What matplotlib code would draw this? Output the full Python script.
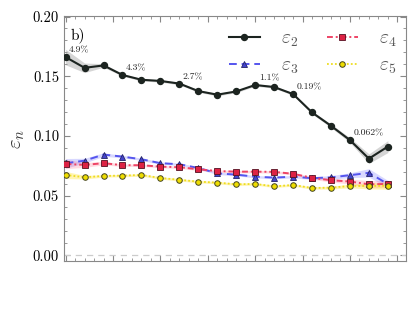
import numpy as np
import matplotlib
matplotlib.use("Agg")
import matplotlib.pyplot as plt
from matplotlib.ticker import MultipleLocator, NullFormatter

plt.rcParams["font.family"] = "serif"
plt.rcParams["font.serif"] = ["cmr10", "DejaVu Serif"]
plt.rcParams["mathtext.fontset"] = "cm"
plt.rcParams["axes.formatter.use_mathtext"] = True

# centrality bins (index)
xbin = np.arange(18)
eps2 = [0.166, 0.157, 0.159, 0.151, 0.147, 0.146, 0.1438, 0.1375, 0.1345, 0.1372,
        0.1426, 0.1409, 0.135, 0.1196, 0.1084, 0.0964, 0.0809, 0.0910]
eps2_err = [0.0065, 0.004, 0.0015, 0.001, 0.001, 0.001, 0.001, 0.001, 0.001, 0.001,
            0.001, 0.001, 0.001, 0.0012, 0.0015, 0.002, 0.004, 0.005]
eps3 = [0.0770, 0.0792, 0.0843, 0.0826, 0.0804, 0.0771, 0.0762, 0.0731, 0.0686, 0.0675,
        0.0658, 0.0650, 0.0658, 0.0645, 0.0652, 0.0670, 0.0690, 0.0596]
eps3_err = [0.004, 0.002, 0.0015, 0.001, 0.001, 0.001, 0.001, 0.001, 0.001, 0.001,
            0.001, 0.001, 0.001, 0.0012, 0.0015, 0.002, 0.0035, 0.003]
eps4 = [0.0765, 0.0756, 0.0771, 0.0754, 0.0754, 0.0742, 0.0737, 0.0720, 0.0705, 0.0700,
        0.0700, 0.0698, 0.0682, 0.0648, 0.0628, 0.0617, 0.0594, 0.0597]
eps4_err = [0.004, 0.002, 0.0015, 0.001, 0.001, 0.001, 0.001, 0.001, 0.001, 0.001,
            0.001, 0.001, 0.001, 0.0012, 0.0015, 0.002, 0.003, 0.003]
eps5 = [0.0672, 0.0653, 0.0664, 0.0667, 0.0672, 0.0647, 0.0632, 0.0616, 0.0608, 0.0594,
        0.0597, 0.0577, 0.0588, 0.0563, 0.0566, 0.0580, 0.0580, 0.0582]
eps5_err = [0.003, 0.0015, 0.001, 0.001, 0.001, 0.001, 0.001, 0.001, 0.001, 0.001,
            0.001, 0.001, 0.001, 0.001, 0.0012, 0.0015, 0.0025, 0.003]

# relative error labels on eps2
note_idx = [0, 3, 6, 10, 12, 15]
note_txt = ["4.9%", "4.3%", "2.7%", "1.1%", "0.19%", "0.062%"]

fig = plt.figure(figsize=(4.15, 3.12), dpi=100)
ax = fig.add_axes([0.154, 0.163, 0.824, 0.786])

def band(y, e, color, alpha):
    y = np.array(y); e = np.array(e)
    ax.fill_between(xbin, y - e, y + e, color=color, alpha=alpha, lw=0)

band(eps2, eps2_err, "#888888", 0.35)
band(eps3, eps3_err, "#6666ff", 0.25)
band(eps4, eps4_err, "#ff4466", 0.2)
band(eps5, eps5_err, "#ffdd00", 0.3)

ax.axhline(0, color="#cccccc", ls=(0, (5, 4)), lw=0.9)

ax.plot(xbin, eps2, color="#1c2420", ls="-", lw=1.5, marker="o", ms=4.3,
        mfc="#1c2420", mec="#1c2420", label=r"$\varepsilon_2$", zorder=5)
ax.plot(xbin, eps3, color="#5555ee", ls=(0, (4, 2.5)), lw=1.4, marker="^", ms=4.5,
        mfc="#4444cc", mec="#222266", mew=0.6, label=r"$\varepsilon_3$", zorder=4)
ax.plot(xbin, eps4, color="#ee4466", ls=(0, (3, 1.5, 1, 1.5)), lw=1.4, marker="s", ms=4.5,
        mfc="#dd2244", mec="#551122", mew=0.6, label=r"$\varepsilon_4$", zorder=4)
ax.plot(xbin, eps5, color="#eedd22", ls=(0, (1, 1.2)), lw=1.3, marker="o", ms=4,
        mfc="#eedd00", mec="#444422", mew=0.7, label=r"$\varepsilon_5$", zorder=4)

for i, t in zip(note_idx, note_txt):
    ax.annotate(t, xy=(xbin[i], eps2[i]), xytext=(2.5, 4.7), textcoords="offset points",
                fontsize=7, ha="left", va="center", color="#222222")

ax.text(0.02, 0.955, "b)", transform=ax.transAxes, fontsize=11, ha="left", va="top")

ax.set_xlim(-0.09, 17.95)
ax.set_ylim(-0.005, 0.2005)
ax.set_ylabel(r"$\varepsilon_n$", fontsize=15, color="#333333", labelpad=4)
ax.yaxis.set_major_locator(MultipleLocator(0.05))
ax.yaxis.set_minor_locator(MultipleLocator(0.01))
ax.yaxis.set_major_formatter(plt.FuncFormatter(lambda v, p: "%.2f" % v))
ax.xaxis.set_major_locator(MultipleLocator(2.5))
ax.xaxis.set_minor_locator(MultipleLocator(0.5))
ax.xaxis.set_major_formatter(NullFormatter())
ax.tick_params(which="both", direction="in", top=True, right=True, color="#888888")
ax.tick_params(which="major", length=4, labelsize=10.5)
ax.tick_params(which="minor", length=2)
for s in ax.spines.values():
    s.set_color("#888888")

leg = ax.legend(ncol=2, loc="upper right", bbox_to_anchor=(1.025, 1.015), frameon=False,
                fontsize=14, handlelength=1.6, handletextpad=1.1, columnspacing=1.45,
                labelspacing=0.4)
for t in leg.get_texts():
    t.set_color("#555555")

fig.savefig("out.png", dpi=100)
